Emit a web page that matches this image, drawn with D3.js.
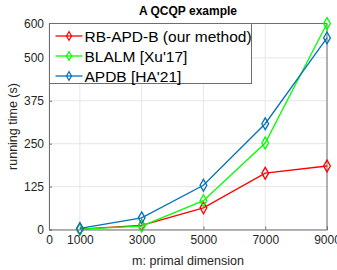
<!DOCTYPE html>
<meta charset="utf-8">
<script src="https://d3js.org/d3.v7.min.js"></script>
<style>
  body { margin: 0; background: #fff; }
  text { font-family: "Liberation Sans", Arial, sans-serif; }
</style>
<div id="chart"></div>
<script>
// data
var dims = [1000, 3000, 5000, 7000, 9000];
var rbapd = [1, 12, 63, 164, 185];
var blalm = [1, 10, 84, 252, 600];
var apdb = [3, 34, 129, 308, 558];
var xTicks = [0, 1000, 3000, 5000, 7000, 9000];
var yTicks = [0, 125, 250, 375, 500, 600];

var series = [
  {name: "RB-APD-B (our method)", values: rbapd, color: "#ff0000"},
  {name: "BLALM [Xu'17]", values: blalm, color: "#00ff00"},
  {name: "APDB [HA'21]", values: apdb, color: "#0072bd"}
];

var margin = {top: 23.5, right: 10, bottom: 40.5, left: 49},
    width = 337 - margin.left - margin.right,
    height = 270 - margin.top - margin.bottom;

var svg = d3.select("#chart").append("svg")
    .attr("width", 337)
    .attr("height", 270);

var g = svg.append("g")
    .attr("transform", "translate(" + margin.left + "," + margin.top + ")");

var x = d3.scaleLinear().domain([0, 9000]).range([0, width]);
var y = d3.scaleLinear().domain([0, 600]).range([height, 0]);

// grid
g.append("g").selectAll("line").data(xTicks).enter().append("line")
    .attr("x1", d => x(d)).attr("x2", d => x(d))
    .attr("y1", 0).attr("y2", height)
    .attr("stroke", "#e6e6e6");
g.append("g").selectAll("line").data(yTicks).enter().append("line")
    .attr("x1", 0).attr("x2", width)
    .attr("y1", d => y(d)).attr("y2", d => y(d))
    .attr("stroke", "#e6e6e6");

// axes
var xAxis = g.append("g")
    .attr("transform", "translate(0," + height + ")")
    .call(d3.axisBottom(x).tickValues(xTicks).tickSize(-3).tickPadding(6).tickFormat(d3.format("d")));
var yAxis = g.append("g")
    .call(d3.axisLeft(y).tickValues(yTicks).tickSize(-3).tickPadding(5));
[xAxis, yAxis].forEach(function(a) {
  a.select(".domain").attr("stroke", "#6e6e6e");
  a.selectAll(".tick line").attr("stroke", "#6e6e6e");
  a.selectAll("text").attr("fill", "#262626").style("font-size", "12px")
    .style("font-family", "'Liberation Sans', Arial, sans-serif");
});
// box
g.append("line").attr("x1", 0).attr("x2", width).attr("y1", 0).attr("y2", 0).attr("stroke", "#6e6e6e");
g.append("line").attr("x1", width).attr("x2", width).attr("y1", 0).attr("y2", height).attr("stroke", "#6e6e6e");

// lines
var line = d3.line()
    .x((d, i) => x(dims[i]))
    .y(d => y(d));

var diamond = d3.symbol().type(d3.symbolDiamond).size(40);

series.forEach(function(s) {
  g.append("path")
    .datum(s.values)
    .attr("fill", "none")
    .attr("stroke", s.color)
    .attr("stroke-width", 1.3)
    .attr("d", line);
  g.selectAll(null).data(s.values).enter().append("path")
    .attr("d", diamond)
    .attr("transform", (d, i) => "translate(" + x(dims[i]) + "," + y(d) + ")")
    .attr("fill", "none")
    .attr("stroke", s.color)
    .attr("stroke-width", 1.3);
});

// title and labels
svg.append("text")
    .attr("x", margin.left + width / 2)
    .attr("y", 15)
    .attr("text-anchor", "middle")
    .style("font-size", "12px")
    .style("font-weight", "bold")
    .attr("fill", "#000")
    .text("A QCQP example");

svg.append("text")
    .attr("x", margin.left + width / 2)
    .attr("y", 265)
    .attr("text-anchor", "middle")
    .style("font-size", "12.5px")
    .attr("fill", "#262626")
    .text("m: primal dimension");

svg.append("text")
    .attr("transform", "rotate(-90)")
    .attr("x", -(margin.top + height / 2))
    .attr("y", 17)
    .attr("text-anchor", "middle")
    .style("font-size", "12.5px")
    .attr("fill", "#262626")
    .text("running time (s)");

// legend
var leg = g.append("g").attr("transform", "translate(0.5,0)");
leg.append("rect")
    .attr("x", 0).attr("y", 0)
    .attr("width", 202).attr("height", 60)
    .attr("fill", "#fff")
    .attr("stroke", "#6e6e6e");
series.forEach(function(s, i) {
  var yy = 12.5 + i * 20;
  leg.append("line")
    .attr("x1", 6).attr("x2", 33)
    .attr("y1", yy).attr("y2", yy)
    .attr("stroke", s.color).attr("stroke-width", 1.3);
  leg.append("path")
    .attr("d", d3.symbol().type(d3.symbolDiamond).size(22))
    .attr("transform", "translate(19.5," + yy + ")")
    .attr("fill", "none").attr("stroke", s.color).attr("stroke-width", 1.2);
  leg.append("text")
    .attr("x", 35).attr("y", yy + 5.5)
    .style("font-size", "15.5px")
    .attr("fill", "#000")
    .text(s.name);
});
</script>
